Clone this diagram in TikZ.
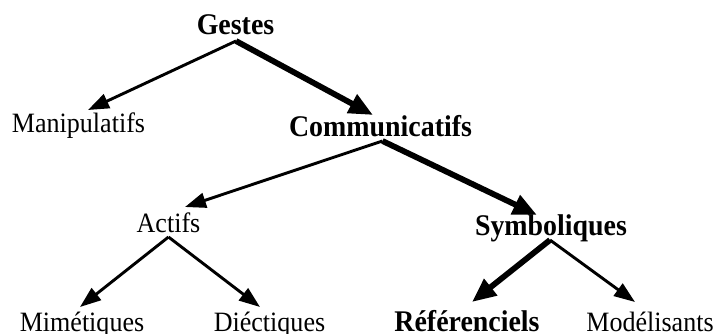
\documentclass[tikz,border=0pt]{standalone}
\usepackage{fontspec}
\setmainfont[FakeStretch=0.93]{Liberation Serif}
\usetikzlibrary{arrows.meta,calc}
\begin{document}
\begin{tikzpicture}[x=1pt,y=-1pt,
  lbl/.style={anchor=base,inner sep=0pt,font=\fontsize{28}{32}\selectfont},
  blbl/.style={anchor=base,inner sep=0pt,font=\fontsize{30}{34}\selectfont\bfseries},
  thin/.style={line width=2.9pt,-{Triangle[length=21pt,width=15pt]}},
  thick/.style={line width=5.8pt,-{Triangle[length=24pt,width=20pt]}}]
\useasboundingbox (0,0) rectangle (715,334);
\node[blbl] (ges) at (235.5,35) {Gestes};
\node[lbl] (man) at (78.5,133) {Manipulatifs};
\node[blbl] (com) at (380.5,137) {Communicatifs};
\node[lbl] (act) at (168.5,232) {Actifs};
\node[blbl] (sym) at (551,235) {Symboliques};
\node[lbl] (mim) at (82,331) {Mimétiques};
\node[lbl] (die) at (269.5,331) {Diéctiques};
\node[blbl] (ref) at (467,331) {Référenciels};
\node[lbl] (mod) at (650,331) {Modélisants};
\draw[thin] ($(ges.base)+(0.5,6)$) -- ($(man.base)+(9.5,-23)$);
\draw[thick] ($(ges.base)+(0.5,6)$) -- ($(com.base)+(-7.5,-22)$);
\draw[thin] ($(com.base)+(2,4)$) -- ($(act.base)+(16.5,-25)$);
\draw[thick] ($(com.base)+(2,4)$) -- ($(sym.base)+(-14,-20)$);
\draw[thin] ($(act.base)+(0,5)$) -- ($(mim.base)+(-2,-24)$);
\draw[thin] ($(act.base)+(0,5)$) -- ($(die.base)+(-9.5,-24)$);
\draw[thick] ($(sym.base)+(-1,5)$) -- ($(ref.base)+(5,-29)$);
\draw[thin] ($(sym.base)+(-1,5)$) -- ($(mod.base)+(-15,-29)$);
\end{tikzpicture}
\end{document}
